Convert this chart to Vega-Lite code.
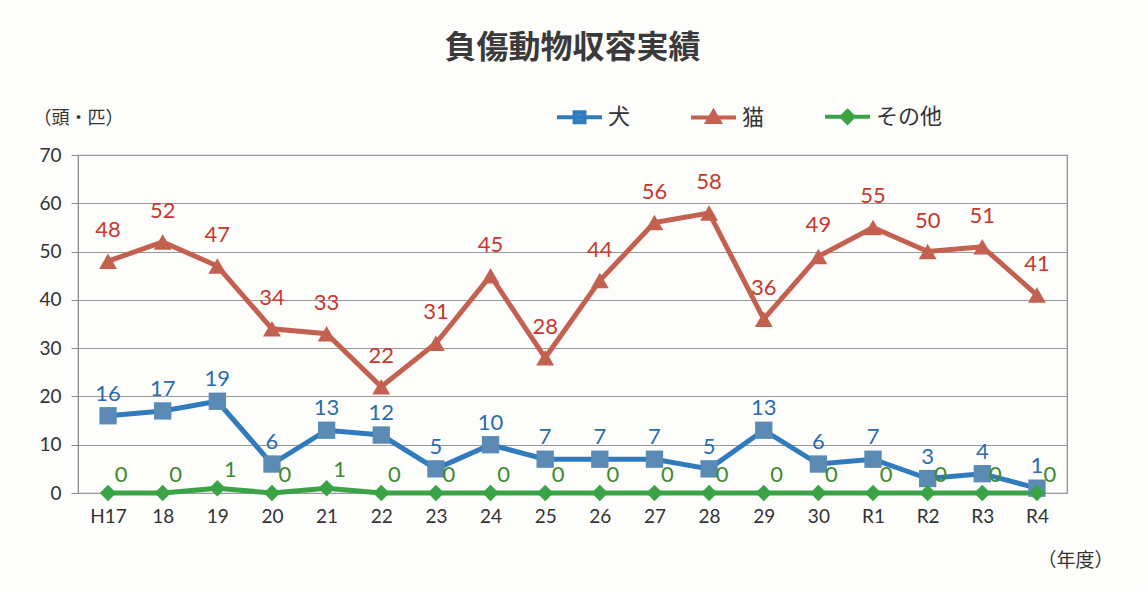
{
  "$schema": "https://vega.github.io/schema/vega-lite/v6.json",
  "width": 989,
  "height": 338,
  "autosize": {"type": "none"},
  "padding": {"left": 78, "top": 155, "right": 79, "bottom": 96},
  "background": "#fdfdfb",
  "config": {
    "font": "Lato, Noto Sans CJK JP",
    "view": {"stroke": "#8a8a8a", "strokeWidth": 1.2}
  },
  "title": {
    "text": "負傷動物収容実績",
    "font": "Noto Sans CJK JP",
    "fontSize": 32,
    "fontWeight": "bold",
    "color": "#3a3a3a",
    "anchor": "middle",
    "offset": 27
  },
  "datasets": {
    "rows": [
      {"year": "H17", "series": "犬", "value": 16}, {"year": "18", "series": "犬", "value": 17}, {"year": "19", "series": "犬", "value": 19},
      {"year": "20", "series": "犬", "value": 6}, {"year": "21", "series": "犬", "value": 13}, {"year": "22", "series": "犬", "value": 12},
      {"year": "23", "series": "犬", "value": 5}, {"year": "24", "series": "犬", "value": 10}, {"year": "25", "series": "犬", "value": 7},
      {"year": "26", "series": "犬", "value": 7}, {"year": "27", "series": "犬", "value": 7}, {"year": "28", "series": "犬", "value": 5},
      {"year": "29", "series": "犬", "value": 13}, {"year": "30", "series": "犬", "value": 6}, {"year": "R1", "series": "犬", "value": 7},
      {"year": "R2", "series": "犬", "value": 3}, {"year": "R3", "series": "犬", "value": 4}, {"year": "R4", "series": "犬", "value": 1},
      {"year": "H17", "series": "猫", "value": 48}, {"year": "18", "series": "猫", "value": 52}, {"year": "19", "series": "猫", "value": 47},
      {"year": "20", "series": "猫", "value": 34}, {"year": "21", "series": "猫", "value": 33}, {"year": "22", "series": "猫", "value": 22},
      {"year": "23", "series": "猫", "value": 31}, {"year": "24", "series": "猫", "value": 45}, {"year": "25", "series": "猫", "value": 28},
      {"year": "26", "series": "猫", "value": 44}, {"year": "27", "series": "猫", "value": 56}, {"year": "28", "series": "猫", "value": 58},
      {"year": "29", "series": "猫", "value": 36}, {"year": "30", "series": "猫", "value": 49}, {"year": "R1", "series": "猫", "value": 55},
      {"year": "R2", "series": "猫", "value": 50}, {"year": "R3", "series": "猫", "value": 51}, {"year": "R4", "series": "猫", "value": 41},
      {"year": "H17", "series": "その他", "value": 0}, {"year": "18", "series": "その他", "value": 0}, {"year": "19", "series": "その他", "value": 1},
      {"year": "20", "series": "その他", "value": 0}, {"year": "21", "series": "その他", "value": 1}, {"year": "22", "series": "その他", "value": 0},
      {"year": "23", "series": "その他", "value": 0}, {"year": "24", "series": "その他", "value": 0}, {"year": "25", "series": "その他", "value": 0},
      {"year": "26", "series": "その他", "value": 0}, {"year": "27", "series": "その他", "value": 0}, {"year": "28", "series": "その他", "value": 0},
      {"year": "29", "series": "その他", "value": 0}, {"year": "30", "series": "その他", "value": 0}, {"year": "R1", "series": "その他", "value": 0},
      {"year": "R2", "series": "その他", "value": 0}, {"year": "R3", "series": "その他", "value": 0}, {"year": "R4", "series": "その他", "value": 0}
    ]
  },
  "data": {"name": "rows"},
  "encoding": {
    "x": {
      "field": "year",
      "type": "ordinal",
      "sort": ["H17","18","19","20","21","22","23","24","25","26","27","28","29","30","R1","R2","R3","R4"],
      "scale": {"type": "point", "padding": 0.55},
      "axis": {
        "title": "（年度）",
        "titleFont": "Noto Sans CJK JP",
        "titleFontSize": 19,
        "titleFontWeight": "normal",
        "titleColor": "#333333",
        "titleAngle": 0,
        "titleAlign": "center",
        "titleBaseline": "middle",
        "titleX": 997,
        "titleY": 67,
        "labelAngle": 0,
        "labelFontSize": 19,
        "labelColor": "#333333",
        "labelPadding": 14,
        "ticks": false,
        "domain": false,
        "grid": false
      }
    },
    "y": {
      "field": "value",
      "type": "quantitative",
      "scale": {"domain": [0, 70], "nice": false},
      "axis": {
        "values": [0, 10, 20, 30, 40, 50, 60, 70],
        "title": "（頭・匹）",
        "titleFont": "Noto Sans CJK JP",
        "titleFontSize": 18,
        "titleFontWeight": "normal",
        "titleColor": "#333333",
        "titleAngle": 0,
        "titleAlign": "center",
        "titleBaseline": "middle",
        "titleX": 0,
        "titleY": -37,
        "labelFontSize": 19,
        "labelColor": "#333333",
        "labelPadding": 10,
        "tickSize": 7,
        "tickColor": "#8a8a8a",
        "domainColor": "#8a8a8a",
        "gridColor": "#9a9a9a",
        "gridWidth": 1.2
      }
    }
  },
  "layer": [
    {
      "mark": {"type": "line", "strokeWidth": 5},
      "encoding": {
        "color": {
          "field": "series",
          "type": "nominal",
          "scale": {"domain": ["犬", "猫", "その他"], "range": ["#2f7bbd", "#c4604f", "#3aa345"]},
          "legend": {
            "title": null,
            "orient": "none",
            "direction": "horizontal",
            "legendX": 477,
            "legendY": -63,
            "symbolSize": 2025,
            "labelFont": "Noto Sans CJK JP",
            "labelFontSize": 22,
            "labelColor": "#333333",
            "labelOffset": 4,
            "columnPadding": 52,
            "encode": {
              "symbols": {
                "update": {
                  "shape": {"signal": "datum.value === '犬' ? 'M-1,0H1M-0.22,-0.22H0.22V0.22H-0.22Z' : datum.value === '猫' ? 'M-1,0H1M0,-0.26L0.27,0.2H-0.27Z' : 'M-1,0H1M0,-0.26L0.26,0L0,0.26L-0.26,0Z'"},
                  "stroke": {"scale": "color", "field": "value"},
                  "fill": {"signal": "datum.value === '犬' ? '#5b8bb5' : scale('color', datum.value)"},
                  "strokeWidth": {"value": 4},
                  "opacity": {"value": 1}
                }
              }
            }
          }
        }
      }
    },
    {
      "transform": [{"filter": "datum.series === '犬'"}],
      "mark": {"type": "point", "shape": "square", "filled": true, "strokeWidth": 0, "opacity": 1, "size": 300, "fill": "#5b8bb5"}
    },
    {
      "transform": [{"filter": "datum.series === '猫'"}],
      "mark": {"type": "point", "shape": "triangle-up", "filled": true, "strokeWidth": 0, "opacity": 1, "size": 320, "fill": "#c4604f"}
    },
    {
      "transform": [{"filter": "datum.series === 'その他'"}],
      "mark": {"type": "point", "shape": "diamond", "filled": true, "strokeWidth": 0, "opacity": 1, "size": 270, "fill": "#3aa345"}
    },
    {
      "transform": [{"filter": "datum.series === '犬'"}],
      "mark": {"type": "text", "fontSize": 22, "color": "#2a6cb0", "baseline": "bottom", "dy": -10},
      "encoding": {"text": {"field": "value", "type": "quantitative"}}
    },
    {
      "transform": [{"filter": "datum.series === '猫'"}],
      "mark": {"type": "text", "fontSize": 22, "color": "#c8382b", "baseline": "bottom", "dy": -19},
      "encoding": {"text": {"field": "value", "type": "quantitative"}}
    },
    {
      "transform": [{"filter": "datum.series === 'その他'"}],
      "mark": {"type": "text", "fontSize": 22, "color": "#3e8a2e", "baseline": "middle", "dx": 13, "dy": -18},
      "encoding": {"text": {"field": "value", "type": "quantitative"}}
    }
  ]
}
